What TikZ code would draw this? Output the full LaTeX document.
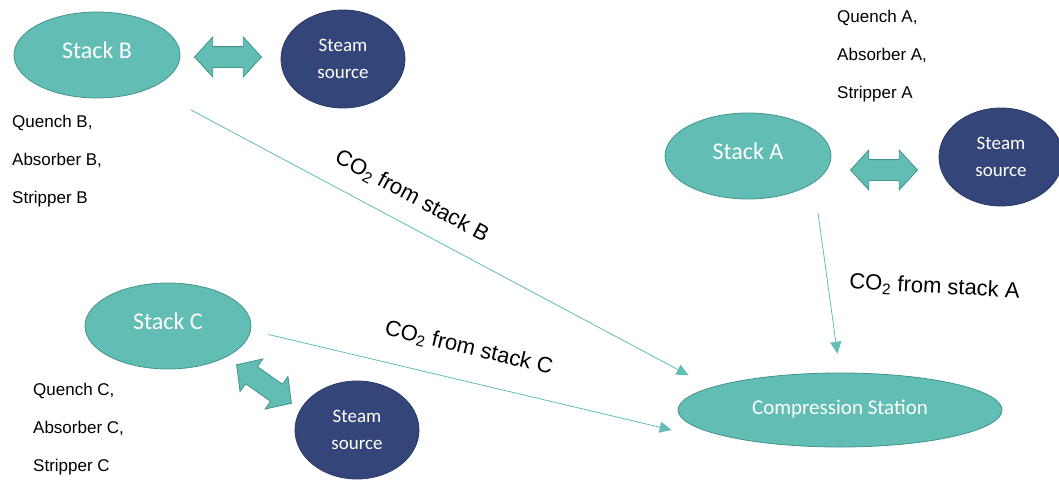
\documentclass[tikz,border=0pt]{standalone}
\usepackage{fontspec}
\setmainfont{Liberation Sans}
\newfontfamily\calibrifont{Carlito}
\usetikzlibrary{shapes.geometric, shapes.arrows, positioning, arrows.meta}
\definecolor{stackteal}{RGB}{98,189,180}
\definecolor{stackline}{RGB}{66,148,140}
\definecolor{steamnavy}{RGB}{52,70,121}
\definecolor{steamline}{RGB}{42,57,102}

\begin{document}
\begin{tikzpicture}[x=1pt, y=-1pt]
    \tikzset{stack/.style={ellipse,draw=stackline,fill=stackteal,thick,text=white,inner sep=0pt,minimum width=166pt,minimum height=86pt,text depth=9pt,font=\calibrifont\fontsize{24}{28}\selectfont}}
    \tikzset{steam/.style={ellipse,draw=steamline,fill=steamnavy,thick,text=white,inner sep=0pt,minimum width=124pt,minimum height=98pt,align=center,font=\calibrifont\fontsize{19}{27}\selectfont}}
    \tikzset{twoway/.style={double arrow,draw=stackline,fill=stackteal,thick,inner xsep=0pt,inner ysep=10pt,minimum height=67pt,double arrow head extend=9.5pt,double arrow tip angle=95}}
    \tikzset{unitlist/.style={anchor=north west,inner sep=0pt,align=left,font=\fontsize{17}{38}\selectfont}}
    \tikzset{flowlabel/.style={font=\fontsize{22}{26}\selectfont}}
    \tikzset{flow/.style={draw=stackteal,line width=0.8pt,-{Triangle[length=12pt,width=11pt]}}}
    \useasboundingbox (0,0) rectangle (1059,479);

    % Stack B
    \node[stack] (sb) at (97,55) {Stack B};
    \node[steam] (stb) at (343,59) {Steam\\source};
    \node[twoway] (xb) at (228,57) {};
    \node[unitlist] (ub) at (12,115) {Quench B,\\Absorber B,\\Stripper B};

    % Stack A
    \node[stack] (sa) at (748,156) {Stack A};
    \node[steam] (sta) at (1001,157) {Steam\\source};
    \node[twoway] (xa) at (884,170) {};
    \node[unitlist] (ua) at (837,10) {Quench A,\\Absorber A,\\Stripper A};

    % Stack C
    \node[stack] (sc) at (168,326) {Stack C};
    \node[steam] (stc) at (357,430) {Steam\\source};
    \node[twoway, rotate=-35] (xc) at (264,384) {};
    \node[unitlist] (uc) at (33,383) {Quench C,\\Absorber C,\\Stripper C};

    % Compression
    \node[stack, minimum width=324pt, minimum height=74pt, text depth=6pt, font=\calibrifont\fontsize{21}{25}\selectfont] (cs) at (840,410) {Compression Station};

    \draw[flow, shorten <=46pt, shorten >=25.5pt] (sb.-32.4) -- (cs.170.4)
        node[flowlabel, pos=0.443, sloped, above=14pt] {CO\textsubscript{2} from stack B};
    \draw[flow, shorten <=18pt] (sc.-3.4) -- ([xshift=-6pt,yshift=-20pt]cs.west)
        node[flowlabel, pos=0.5, sloped, above=19pt] {CO\textsubscript{2} from stack C};
    \draw[flow, shorten <=30pt, shorten >=19pt] (sa.-22.3) -- (cs.north)
        node[flowlabel, pos=0.526, right=18pt, rotate=-3] {CO\textsubscript{2} from stack A};
\end{tikzpicture}
\end{document}
